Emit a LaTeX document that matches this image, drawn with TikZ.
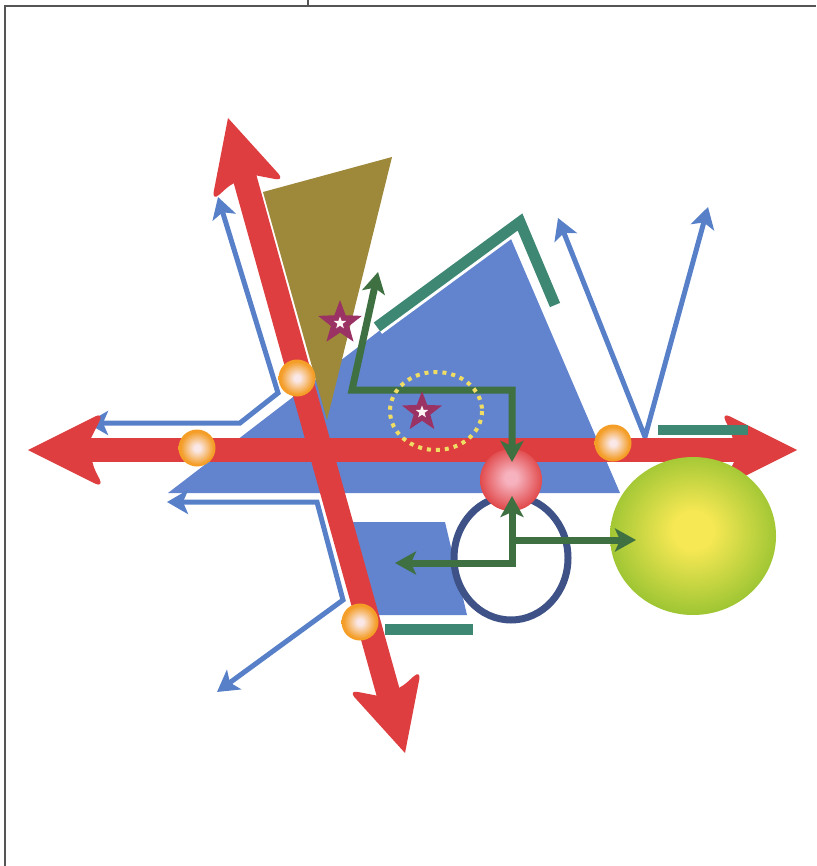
\documentclass[tikz,border=0pt]{standalone}
\usetikzlibrary{arrows.meta,shapes.geometric}
\definecolor{redarrow}{RGB}{222,62,64}
\definecolor{bluearea}{RGB}{98,132,206}
\definecolor{bluethin}{RGB}{88,128,200}
\definecolor{oliveshape}{RGB}{158,136,58}
\definecolor{tealbar}{RGB}{62,135,115}
\definecolor{greenline}{RGB}{62,112,66}
\definecolor{navyring}{RGB}{62,82,135}
\definecolor{starred}{RGB}{155,50,100}
\definecolor{dotyellow}{RGB}{240,222,100}
\definecolor{framegray}{RGB}{85,85,85}
\definecolor{ballorange}{RGB}{244,158,40}
\definecolor{ballpale}{RGB}{250,232,232}
\definecolor{ballred}{RGB}{222,60,60}
\definecolor{ballpink}{RGB}{246,178,190}
\definecolor{spheregreen}{RGB}{140,190,44}
\definecolor{sphereyellow}{RGB}{246,232,84}
\pgfdeclareradialshading{orangeball}{\pgfpoint{0bp}{0bp}}{color(0bp)=(ballpale); color(4bp)=(ballpale); color(22bp)=(ballorange); color(50bp)=(ballorange)}
\pgfdeclareradialshading{redball}{\pgfpoint{0bp}{2bp}}{color(0bp)=(ballpink); color(5bp)=(ballpink); color(28bp)=(ballred); color(50bp)=(ballred)}
\pgfdeclareradialshading{greenball}{\pgfpoint{0bp}{2bp}}{color(0bp)=(sphereyellow); color(6bp)=(sphereyellow); color(30bp)=(spheregreen); color(50bp)=(spheregreen)}
\newcommand{\redHead}[2]{\fill[redarrow, shift={(#1)}, rotate=#2] (0,0) [rounded corners=10pt] -- (-76,-38) -- (-63,-12) [sharp corners] -- (-63,12) [rounded corners=10pt] -- (-76,38) [sharp corners] -- cycle;}
\tikzset{
  bluetip/.tip={Stealth[length=21pt,width=24pt,inset=5pt]},
  greentip/.tip={Stealth[length=21pt,width=23pt,inset=5pt]}}

\begin{document}
\begin{tikzpicture}[x=1pt,y=-1pt,
  thinarrow/.style={bluethin, line width=5pt, {bluetip}-{bluetip}},
  greenarrow/.style={greenline, line width=7pt},
  tealline/.style={tealbar, line width=11pt},
  orangeknob/.style={circle, minimum size=37pt, inner sep=0pt, shade, shading=orangeball},
  bigstar/.style={star, star points=5, star point ratio=2.4, minimum size=46pt, inner sep=0pt, fill=starred},
  smallstar/.style={star, star points=5, star point ratio=2.4, minimum size=13pt, inner sep=0pt, fill=white!85!pink}]
\useasboundingbox (0,0) rectangle (816,866);
\fill[white] (0,0) rectangle (816,866);
\draw[framegray, line width=2pt] (5,866) -- (5,6) -- (816,6);
\draw[framegray, line width=2pt] (308,0) -- (308,6);

\fill[bluearea] (168,493) -- (508,232) -- (620,493) -- cycle;
\fill[bluearea] (345,522) -- (445,522) -- (467,615) -- (370,615) -- cycle;
\fill[oliveshape] (263,192) -- (392,157) -- (327,420) -- cycle;
\draw[white, line width=17pt] (377,327) -- (520,222) -- (555,305);
\draw[tealline] (377,327) -- (520,222) -- (555,305);

\draw[thinarrow] (218,197) -- (278,393) -- (240,423) -- (87,423);
\draw[thinarrow] (167,502) -- (317,502) -- (343,600) -- (217,692);
\draw[thinarrow] (558,218) -- (645,437) -- (708,207);

\node[ellipse, draw=navyring, line width=7pt, minimum width=114pt, minimum height=124pt, inner sep=0pt] (ring) at (511,558) {};

\coordinate (hL) at (28,450);
\coordinate (hR) at (797,450);
\coordinate (dT) at (228,118);
\coordinate (dB) at (405,753);
\draw[redarrow, line width=24pt, shorten <=40pt, shorten >=40pt] (hL) -- (hR);
\draw[redarrow, line width=24pt, shorten <=40pt, shorten >=40pt] (dT) -- (dB);
\redHead{hL}{180}
\redHead{hR}{0}
\redHead{dT}{105.6}
\redHead{dB}{-74.4}

\node[orangeknob] (k1) at (197,448) {};
\node[orangeknob] (k2) at (297,378) {};
\node[orangeknob] (k3) at (613,443) {};
\node[orangeknob] (k4) at (360,622) {};
\node[circle, minimum size=62pt, inner sep=0pt, shade, shading=redball] (rb) at (511,480) {};

\draw[tealbar, line width=10pt] (658,430) -- (748,430);
\draw[tealline] (385,629) -- (473,629);

\node[ellipse, minimum width=166pt, minimum height=158pt, inner sep=0pt, shade, shading=greenball] (gs) at (693,536) {};

\draw[greenarrow, {greentip}-{greentip}] (378,272) -- (352,390) -- (512,390) -- (512,462);
\draw[greenarrow, {greentip}-{greentip}] (395,563) -- (512,563) -- (512,496);
\draw[greenarrow, -{greentip}] (512,540) -- (636,540);

\draw[dotyellow, line width=4pt, dash pattern=on 4pt off 5pt] (436,411) ellipse [x radius=46, y radius=39];
\node[bigstar] (s1) at (340,323) {};
\node[smallstar] at (s1) {};
\node[bigstar, minimum size=42pt] (s2) at (422,412) {};
\node[smallstar] at (s2) {};
\end{tikzpicture}
\end{document}
